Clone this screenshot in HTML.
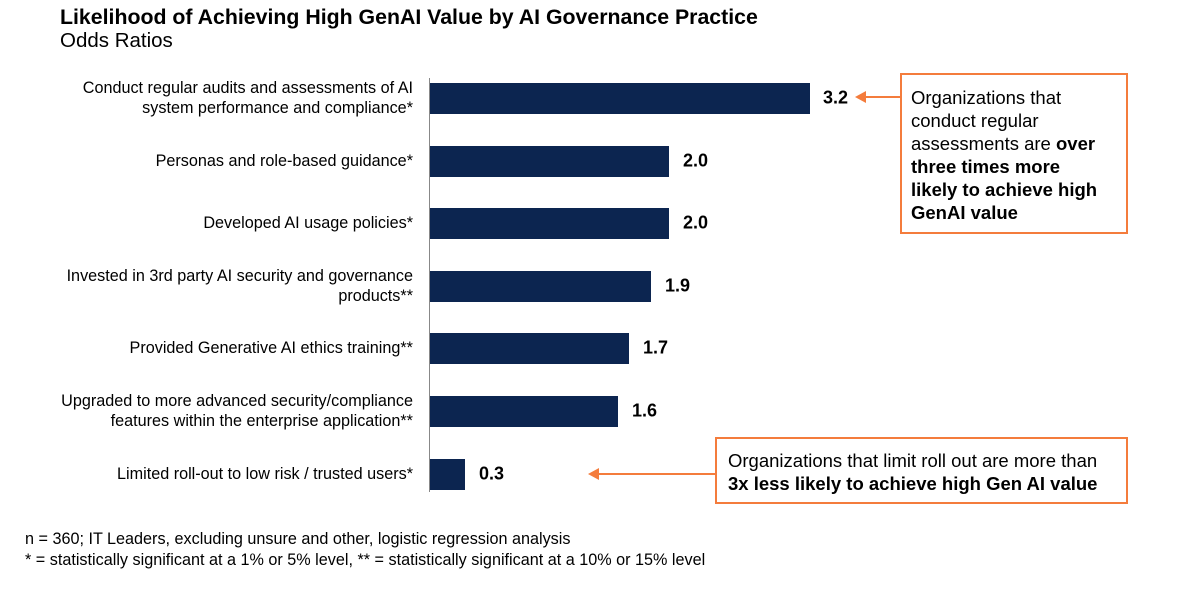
<!DOCTYPE html>
<html><head><meta charset="utf-8"><style>
body{margin:0;width:1204px;height:598px;background:#fff;font-family:"Liberation Sans",sans-serif;color:#000;position:relative;overflow:hidden}
.a{position:absolute}
.lab{position:absolute;right:791px;text-align:right;font-size:16.2px;line-height:20px;transform:translateY(-50%);white-space:nowrap}
.bar{position:absolute;left:430px;height:31px;background:#0c2550}
.v{position:absolute;font-weight:bold;font-size:18px;transform:translateY(-50%)}
.box{position:absolute;border:2px solid #f47c3c;font-size:18.5px;line-height:23px;box-sizing:border-box}
</style></head><body>
<div class="a" style="left:60px;top:5px;font-size:21.3px;font-weight:bold">Likelihood of Achieving High GenAI Value by AI Governance Practice</div>
<div class="a" style="left:60px;top:29px;font-size:20.5px">Odds Ratios</div>
<div class="a" style="left:429px;top:78px;width:1px;height:414px;background:#888"></div>

<div class="lab" style="top:98px">Conduct regular audits and assessments of AI<br>system performance and compliance*</div>
<div class="bar" style="top:83px;width:380px"></div><div class="v" style="left:823px;top:98px">3.2</div>

<div class="lab" style="top:161px">Personas and role-based guidance*</div>
<div class="bar" style="top:146px;width:239px"></div><div class="v" style="left:683px;top:161px">2.0</div>

<div class="lab" style="top:223px">Developed AI usage policies*</div>
<div class="bar" style="top:208px;width:239px"></div><div class="v" style="left:683px;top:223px">2.0</div>

<div class="lab" style="top:286px">Invested in 3rd party AI security and governance<br>products**</div>
<div class="bar" style="top:271px;width:221px"></div><div class="v" style="left:665px;top:286px">1.9</div>

<div class="lab" style="top:348px">Provided Generative AI ethics training**</div>
<div class="bar" style="top:333px;width:199px"></div><div class="v" style="left:643px;top:348px">1.7</div>

<div class="lab" style="top:411px">Upgraded to more advanced security/compliance<br>features within the enterprise application**</div>
<div class="bar" style="top:396px;width:188px"></div><div class="v" style="left:632px;top:411px">1.6</div>

<div class="lab" style="top:474px">Limited roll-out to low risk / trusted users*</div>
<div class="bar" style="top:459px;width:35px"></div><div class="v" style="left:479px;top:474px">0.3</div>

<svg class="a" style="left:0;top:0" width="1204" height="598">
<line x1="862" y1="97" x2="900" y2="97" stroke="#f47c3c" stroke-width="2"/>
<polygon points="855,97 866,91 866,103" fill="#f47c3c"/>
<line x1="595" y1="474" x2="716" y2="474" stroke="#f47c3c" stroke-width="2"/>
<polygon points="588,474 599,468 599,480" fill="#f47c3c"/>
</svg>
<div class="box" style="left:900px;top:73px;width:228px;height:161px;padding:11px 0 0 9px"><span style="display:block;width:190px">Organizations that conduct regular assessments are <b>over three times more likely to achieve high GenAI value</b></span></div>
<div class="box" style="left:715px;top:437px;width:413px;height:67px;padding:10px 0 0 11px;font-size:18.5px;white-space:nowrap">Organizations that limit roll out are more than<br><b>3x less likely to achieve high Gen AI value</b></div>

<div class="a" style="left:25px;top:529px;font-size:16.2px;line-height:21px;white-space:nowrap">n = 360; IT Leaders, excluding unsure and other, logistic regression analysis<br>* = statistically significant at a 1% or 5% level, ** = statistically significant at a 10% or 15% level</div>
</body></html>
